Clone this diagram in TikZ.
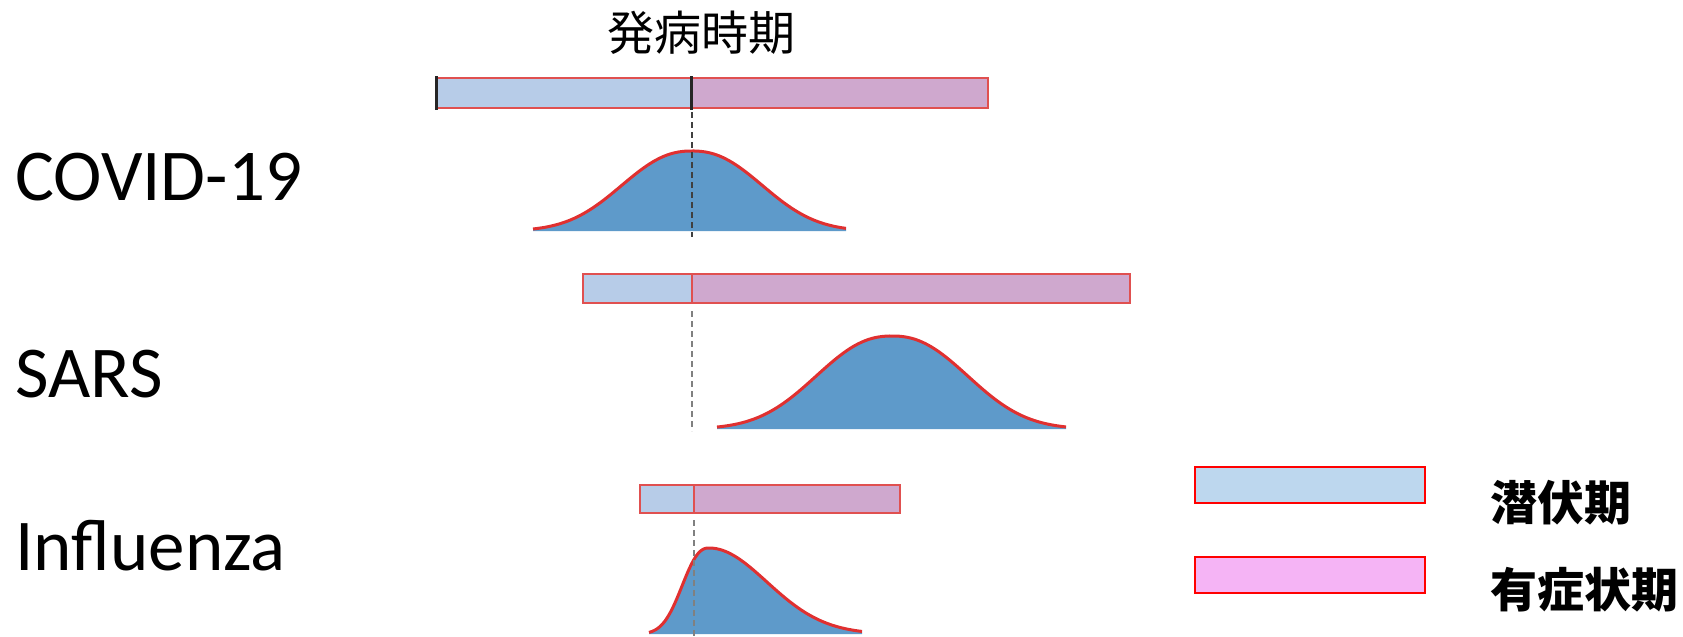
\documentclass[tikz,border=0pt]{standalone}
\usepackage{fontspec}
\setmainfont{Carlito}
\newfontfamily\jpfont{Noto Sans CJK JP}
\definecolor{incub}{HTML}{B7CCE8}
\definecolor{sympt}{HTML}{CFA8CE}
\definecolor{legblue}{HTML}{BDD7EE}
\definecolor{legpink}{HTML}{F5B4F5}
\definecolor{curvefill}{HTML}{5E9ACA}
\definecolor{barred}{HTML}{E05050}
\definecolor{curvered}{HTML}{E03030}
\begin{document}
\begin{tikzpicture}[x=0.5pt,y=-0.5pt,
  barline/.style={draw=barred, line width=1pt},
  curveline/.style={draw=curvered, line width=1.5pt},
  guide/.style={dash pattern=on 3pt off 2pt, line width=0.75pt},
  disease/.style={font=\fontsize{36.5}{40}\selectfont, anchor=base west, inner sep=0pt},
  jptitle/.style={font=\jpfont\fontsize{23.5}{26}\selectfont, anchor=base west, inner sep=0pt},
  jplegend/.style={font=\jpfont\bfseries\fontsize{23.5}{26}\selectfont, anchor=base west, inner sep=0pt},
  legbox/.style={draw=red, line width=1.25pt},
  declare function={
    bump(\t,\hw,\p)=exp(-0.693*((abs(\t)+0.01)/\hw)^\p);
  }]
\useasboundingbox (0,0) rectangle (1683,637);

% labels
\node[disease] (covid) at (15,200) {COVID-19};
\node[disease] (sars) at (15,397) {SARS};
\node[disease] (flu) at (15,570) {Influenza};
\node[jptitle] (onset) at (607,50) {発病時期};

% ---------- COVID-19 ----------
\fill[incub] (436,78) rectangle (691,108);
\fill[sympt] (691,78) rectangle (988,108);
\draw[barline] (436,78) rectangle (988,108);
\draw[line width=1.5pt, black!85] (436,76) -- (436,110);
\draw[line width=1.5pt, black!85] (691,76) -- (691,110);
\fill[curvefill] (533,231) -- plot[domain=533:846,samples=100] (\x,{231-80*bump(\x-692,77,2.3)}) -- (846,231) -- cycle;
\draw[curveline] plot[domain=533:846,samples=100] (\x,{231-80*bump(\x-692,77,2.3)});
\coordinate (c1a) at (692,112);
\coordinate (c1b) at (692,237);
\draw[guide, black!75] (c1a) -- (c1b);

% ---------- SARS ----------
\fill[incub] (583,274) rectangle (692,303);
\fill[sympt] (692,274) rectangle (1130,303);
\draw[barline] (583,274) rectangle (1130,303);
\draw[barline] (692,274) -- (692,303);
\fill[curvefill] (717,429) -- plot[domain=717:1066,samples=100] (\x,{429-93*bump(\x-892,83,2.3)}) -- (1066,429) -- cycle;
\draw[curveline] plot[domain=717:1066,samples=100] (\x,{429-93*bump(\x-892,83,2.3)});
\coordinate (c2a) at (692,311);
\coordinate (c2b) at (692,431);
\draw[guide, black!50] (c2a) -- (c2b);

% ---------- Influenza ----------
\fill[incub] (640,485) rectangle (694,513);
\fill[sympt] (694,485) rectangle (900,513);
\draw[barline] (640,485) rectangle (900,513);
\draw[barline] (694,485) -- (694,513);
\fill[curvefill] (649,634) -- plot[domain=649:709,samples=40] (\x,{634-86*bump(\x-709,29,2.4)}) -- plot[domain=709:862,samples=60] (\x,{634-86*bump(\x-709,68,2)}) -- (862,634) -- cycle;
\draw[curveline] plot[domain=649:709,samples=40] (\x,{634-86*bump(\x-709,29,2.4)}) -- plot[domain=709:862,samples=60] (\x,{634-86*bump(\x-709,68,2)});
\coordinate (c3a) at (694,520);
\coordinate (c3b) at (694,637);
\draw[guide, black!50] (c3a) -- (c3b);

% ---------- legend ----------
\draw[legbox, fill=legblue] (1195,467) rectangle (1425,503);
\draw[legbox, fill=legpink] (1195,557) rectangle (1425,593);
\node[jplegend] (latent) at (1490,520) {潜伏期};
\node[jplegend] (symptomatic) at (1490,607) {有症状期};
\end{tikzpicture}
\end{document}
